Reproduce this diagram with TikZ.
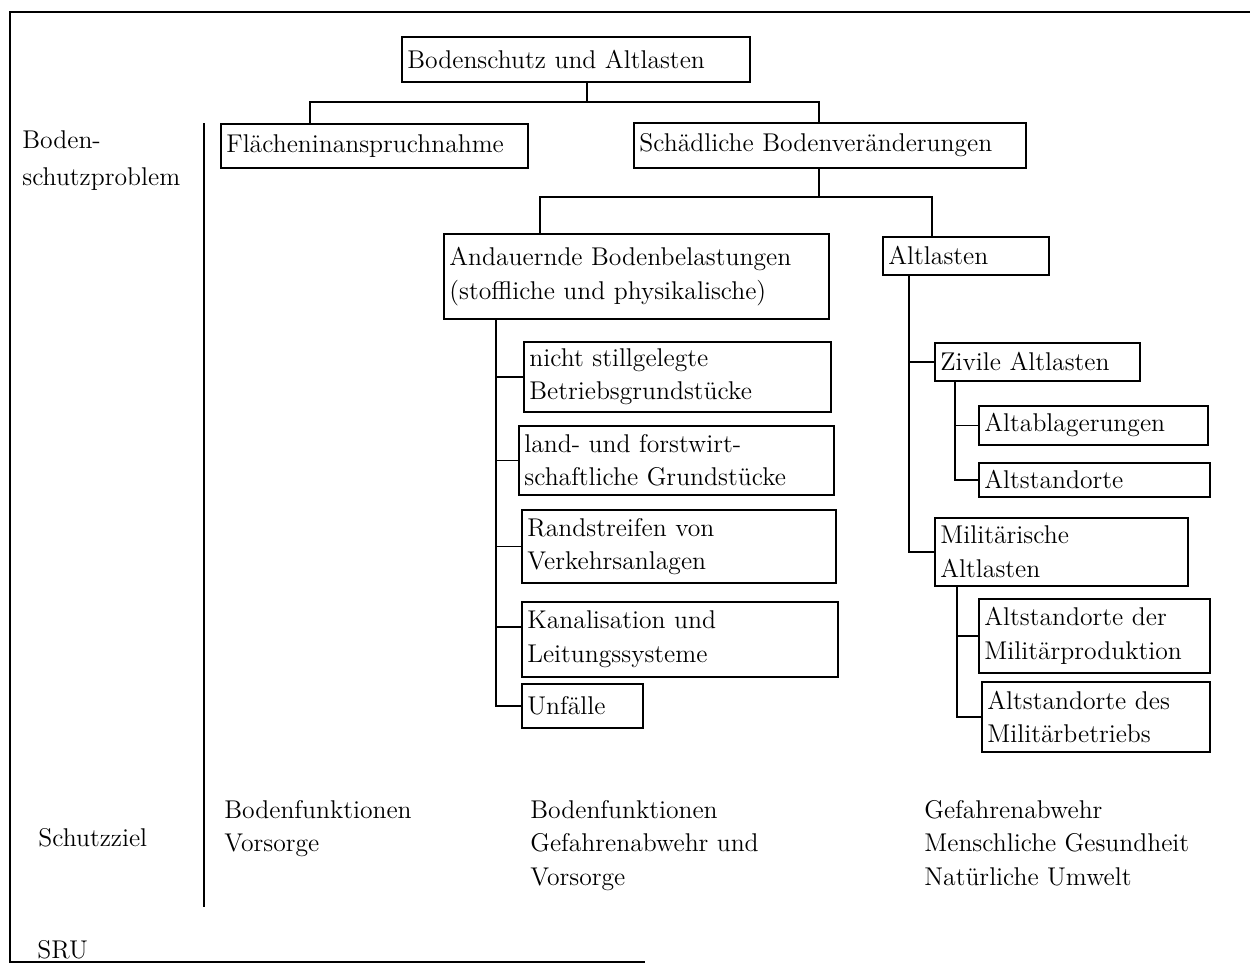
\documentclass[tikz,border=0pt]{standalone}
\usepackage{tikz}
\newcommand\txtfont{\fontsize{14.6}{19}\selectfont}
% box: name, x1, y1, x2, y2, text (corners in pixel units)
\newcommand\bx[6]{%
  \pgfmathsetlengthmacro\boxw{(#4-#2)*0.02cm}%
  \pgfmathsetlengthmacro\boxh{(#5-#3)*0.02cm}%
  \pgfmathsetlengthmacro\boxtw{(#4-#2)*0.02cm-0.22cm}%
  \node[box, minimum width=\boxw, minimum height=\boxh, text width=\boxtw] (#1) at (#2,#3) {#6};}
\tikzset{
  box/.style={draw, line width=1.0pt, anchor=north west, inner xsep=0.11cm,
    inner ysep=0pt, align=left, font=\txtfont},
  link/.style={line width=0.8pt},
  frame/.style={line width=1.1pt},
  label/.style={anchor=north west, align=left, inner sep=0pt, font=\txtfont}
}
\begin{document}
\begin{tikzpicture}[x=0.02cm, y=-0.02cm]
\useasboundingbox (0,0) rectangle (1250,974);

% outer frame (open on the right)
\coordinate (fa) at (1250,12);
\coordinate (fb) at (10,12);
\coordinate (fc) at (10,962);
\coordinate (fd) at (645,962);
\draw[frame] (fa) -- (fb) -- (fc) -- (fd);

% row labels and divider
\node[label, font=\fontsize{14.6}{21}\selectfont] (rowa) at (22,130) {Boden-\\schutzproblem};
\node[label, anchor=west] (rowb) at (38,838) {Schutzziel};
\node[label, anchor=west] (src) at (37,950) {SRU};
\coordinate (da) at (204,123);
\coordinate (db) at (204,907);
\draw[frame] (da) -- (db);

% tree boxes
\bx{top}{401}{36}{749}{81}{Bodenschutz und Altlasten}
\bx{flaeche}{220}{123}{527}{167}{Flächeninanspruchnahme}
\bx{schaed}{633}{122}{1025}{167}{Schädliche Bodenveränderungen}
\bx{andau}{443}{233}{828}{318}{Andauernde Bodenbelastungen\\(stoffliche und physikalische)}
\bx{altl}{882}{236}{1048}{274}{Altlasten}
\bx{nicht}{523}{341}{830}{411}{nicht stillgelegte\\Betriebsgrundstücke}
\bx{land}{518}{425}{833}{494}{land- und forstwirt-\\schaftliche Grundstücke}
\bx{rand}{521}{509}{835}{582}{Randstreifen von\\Verkehrsanlagen}
\bx{kanal}{521}{601}{837}{676}{Kanalisation und\\Leitungssysteme}
\bx{unfall}{521}{683}{642}{727}{Unfälle}
\bx{ziv}{934}{342}{1139}{380}{Zivile Altlasten}
\bx{ablag}{978}{405}{1207}{444}{Altablagerungen}
\bx{altst}{978}{462}{1209}{496}{Altstandorte}
\bx{milit}{934}{517}{1187}{585}{Militärische\\Altlasten}
\bx{mprod}{978}{598}{1209}{672}{Altstandorte der\\Militärproduktion}
\bx{mbetr}{981}{681}{1209}{751}{Altstandorte des\\Militärbetriebs}

% junction points of the connectors
\coordinate (j1) at (587,102);
\coordinate (jl1) at (310,102);
\coordinate (jr1) at (819,102);
\coordinate (jl2) at (540,197);
\coordinate (jr2) at (932,197);
\coordinate (t1) at (496,0);
\coordinate (t2) at (909,0);
\coordinate (t3) at (955,0);
\coordinate (t4) at (957,0);

% connectors
\draw[link] (top.south -| j1) -- (j1);
\draw[link] (flaeche.north -| jl1) |- (jr1) -- (schaed.north -| jr1);
\draw[link] (schaed.south -| jr1) -- (jr1 |- jl2);
\draw[link] (andau.north -| jl2) |- (jr2) -- (altl.north -| jr2);

\draw[link] (andau.south -| t1) |- (unfall.west);
\draw[link] (t1 |- nicht.west) -- (nicht.west);
\draw[link] (t1 |- land.west) -- (land.west);
\draw[link] (t1 |- rand.west) -- (rand.west);
\draw[link] ([yshift=0.25cm]kanal.west -| t1) -- ([yshift=0.25cm]kanal.west);

\draw[link] (altl.south -| t2) |- (milit.west);
\draw[link] (t2 |- ziv.west) -- (ziv.west);

\draw[link] (ziv.south -| t3) |- (altst.west);
\draw[link] (t3 |- ablag.west) -- (ablag.west);

\draw[link] (milit.south -| t4) |- (mbetr.west);
\draw[link] (t4 |- mprod.west) -- (mprod.west);

% protection goals
\node[label] (zielA) at (224,800) {Bodenfunktionen\\Vorsorge};
\node[label] (zielB) at (530,800) {Bodenfunktionen\\Gefahrenabwehr und\\Vorsorge};
\node[label] (zielC) at (924,800) {Gefahrenabwehr\\Menschliche Gesundheit\\Natürliche Umwelt};
\end{tikzpicture}
\end{document}
